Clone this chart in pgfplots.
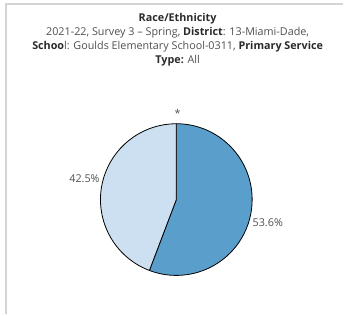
\documentclass[border=0pt]{standalone}
\usepackage{pgfplots}
\pgfplotsset{compat=1.18}
\usepackage{fontspec}
\setmainfont{Open Sans}
\definecolor{darkb}{HTML}{5A9FCB}
\definecolor{lightb}{HTML}{CDE0F1}
\definecolor{txt}{HTML}{505050}
\definecolor{btxt}{HTML}{2A2A2A}
\definecolor{frame}{HTML}{D4D4D4}
\begin{document}
\begin{tikzpicture}
\begin{axis}[x=1pt,y=1pt,xmin=0,xmax=344,ymin=0,ymax=315,hide axis,clip=false,
  scale only axis]
\pgfmathsetmacro\vA{53.6}
\pgfmathsetmacro\vB{42.5}
\pgfmathsetmacro\tot{\vA+\vB}
\pgfmathsetmacro\endA{90-\vA/\tot*360}
\fill[white] (axis cs:0,0) rectangle (axis cs:344,315);
\draw[frame,line width=1.5pt] (axis cs:6,0) -- (axis cs:6,311) -- (axis cs:344,311);
% pie
\filldraw[fill=darkb,draw=black,line width=0.8pt] (axis cs:176.7,115) -- ++(90:76pt) arc[start angle=90,end angle=\endA,radius=76pt] -- cycle;
\filldraw[fill=lightb,draw=black,line width=0.8pt] (axis cs:176.7,115) -- ++(\endA:76pt) arc[start angle=\endA,end angle=-270,radius=76pt] -- cycle;
\node[txt,anchor=west,font=\fontsize{10.8}{12}\selectfont,inner sep=0pt] at (axis cs:253,92) {53.6\%};
\node[txt,anchor=east,font=\fontsize{10.8}{12}\selectfont,inner sep=0pt] at (axis cs:100,136) {42.5\%};
\node[txt,font=\fontsize{10.8}{12}\selectfont,inner sep=0pt] at (axis cs:178,201) {*};
% title
\begin{scope}[every node/.style={font=\fontsize{10.8}{12}\selectfont,inner sep=0pt,txt}]
\node at (axis cs:178,296) {\textcolor{btxt}{\bfseries Race/Ethnicity}};
\node at (axis cs:178,282) {2021-22, Survey 3 – Spring, \textcolor{btxt}{\bfseries District}: 13-Miami-Dade,};
\node at (axis cs:178,268) {\textcolor{btxt}{\bfseries Schoo}l: Goulds Elementary School-0311, \textcolor{btxt}{\bfseries Primary Service}};
\node at (axis cs:178,254) {\textcolor{btxt}{\bfseries Type:} All};
\end{scope}
\end{axis}
\end{tikzpicture}
\end{document}
